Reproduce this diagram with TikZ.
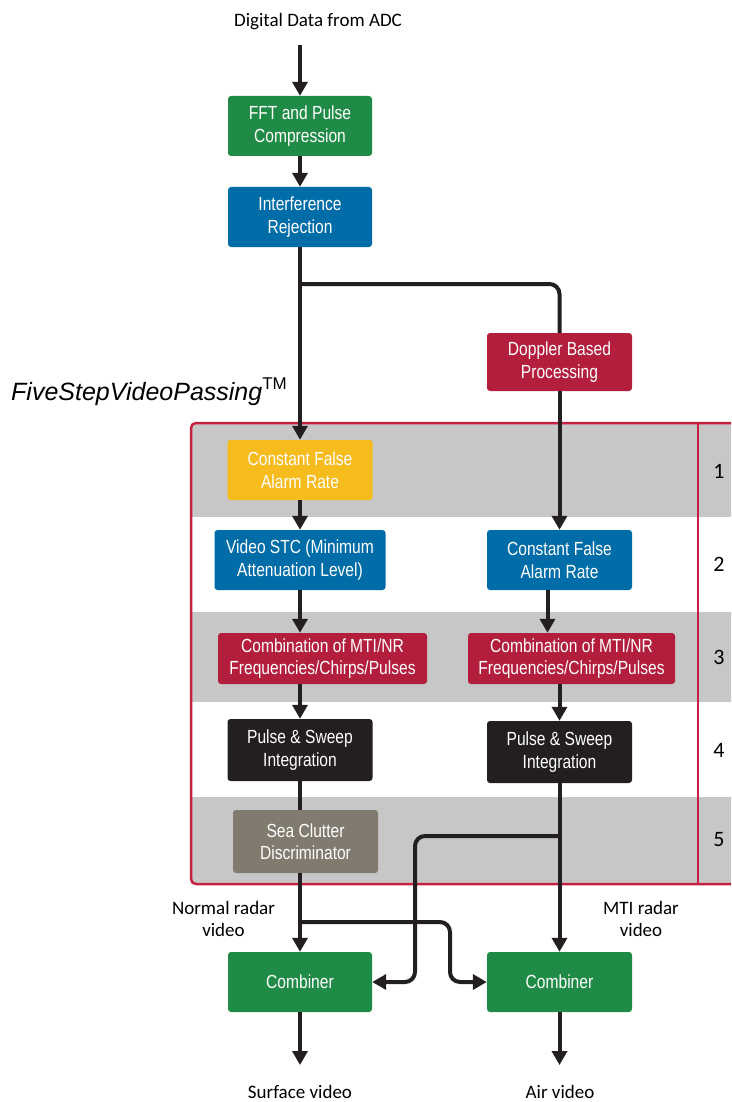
\documentclass[tikz,border=0pt]{standalone}
\usepackage{fontspec}
\setmainfont{Carlito}
\newfontfamily\boxfont{Liberation Sans}[FakeStretch=0.82]
\newfontfamily\headfont{Liberation Sans}
\usetikzlibrary{arrows.meta}

\definecolor{boxgreen}{HTML}{1F8B46}
\definecolor{boxblue}{HTML}{006CA8}
\definecolor{boxred}{HTML}{B31E3C}
\definecolor{boxyellow}{HTML}{F6BB1C}
\definecolor{boxblack}{HTML}{231F20}
\definecolor{boxtaupe}{HTML}{817A6F}
\definecolor{bandgray}{HTML}{C7C7C7}
\definecolor{framered}{HTML}{C4203F}
\definecolor{wirecol}{HTML}{231F20}

\tikzset{
  blk/.style={rounded corners=3pt, text=white, align=center, inner sep=0pt,
    font=\boxfont\fontsize{19}{22.5}\selectfont},
  lbl/.style={align=center, inner sep=0pt, text=black,
    font=\fontsize{19}{22.5}\selectfont},
  stepnum/.style={inner sep=0pt, font=\fontsize{22}{22}\selectfont},
  wire/.style={draw=wirecol, line width=4pt},
  arr/.style={wire, -{Triangle[length=14pt,width=15pt]}},
  roundbend/.style={rounded corners=10pt},
}

\begin{document}
\begin{tikzpicture}[x=1pt,y=-1pt]
\useasboundingbox (0,0) rectangle (731,1102);

% five-step frame with alternating bands
\begin{scope}
  \clip (0,0) rectangle (731,1102);
  \begin{scope}
    \clip[rounded corners=5pt] (191,423) rectangle (760,884);
    \fill[bandgray] (180,410) rectangle (770,517);
    \fill[bandgray] (180,612) rectangle (770,702);
    \fill[bandgray] (180,797) rectangle (770,890);
  \end{scope}
  \draw[framered, line width=2.5pt, rounded corners=5pt] (191,423) rectangle (760,884);
  \draw[framered, line width=2.5pt] (698,423) -- (698,884);
\end{scope}

% step numbers
\node[stepnum] (n1) at (719,471) {1};
\node[stepnum] (n2) at (719,564) {2};
\node[stepnum] (n3) at (719,657) {3};
\node[stepnum] (n4) at (719,750) {4};
\node[stepnum] (n5) at (719,840) {5};

% heading
\node[anchor=base west, inner sep=0pt, font=\headfont\itshape\fontsize{25}{30}\selectfont]
  (brand) at (11,400) {FiveStepVideoPassing\raisebox{11pt}{\fontsize{17}{17}\selectfont\upshape TM}};

% text labels
\node[lbl] (src) at (318,22) {Digital Data from ADC};
\node[lbl] (normal) at (223.5,919) {Normal radar\\video};
\node[lbl] (mti) at (641,919) {MTI radar\\video};
\node[lbl] (surf) at (300,1092) {Surface video};
\node[lbl] (air) at (560,1092) {Air video};

% processing blocks
\node[blk, fill=boxgreen, minimum width=144pt, minimum height=60pt] (fft) at (300,126) {FFT and Pulse\\Compression};
\node[blk, fill=boxblue, minimum width=144pt, minimum height=60pt] (ir) at (300,217) {Interference\\Rejection};
\node[blk, fill=boxred, minimum width=145pt, minimum height=58pt] (dop) at (559.5,362) {Doppler Based\\Processing};
\node[blk, fill=boxyellow, minimum width=145pt, minimum height=60pt] (cfar1) at (300,470) {Constant False\\Alarm Rate};
\node[blk, fill=boxblue, minimum width=171pt, minimum height=60pt] (vstc) at (300,560) {Video STC (Minimum\\Attenuation Level)};
\node[blk, fill=boxblue, minimum width=145pt, minimum height=60pt] (cfar2) at (559.5,560) {Constant False\\Alarm Rate};
\node[blk, fill=boxred, minimum width=209pt, minimum height=51pt] (combL) at (322.5,658.5) {Combination of MTI/NR\\Frequencies/Chirps/Pulses};
\node[blk, fill=boxred, minimum width=207pt, minimum height=51pt] (combR) at (571.5,658.5) {Combination of MTI/NR\\Frequencies/Chirps/Pulses};
\node[blk, fill=boxblack, minimum width=145pt, minimum height=62pt] (psL) at (300,750) {Pulse \& Sweep\\Integration};
\node[blk, fill=boxblack, minimum width=145pt, minimum height=62pt] (psR) at (559.5,752) {Pulse \& Sweep\\Integration};
\node[blk, fill=boxtaupe, minimum width=145pt, minimum height=63pt] (sea) at (305.5,841.5) {Sea Clutter\\Discriminator};
\node[blk, fill=boxgreen, minimum width=144pt, minimum height=60pt] (cL) at (300,982) {Combiner};
\node[blk, fill=boxgreen, minimum width=145pt, minimum height=60pt] (cR) at (559.5,982) {Combiner};

% routing points
\coordinate (srcEnd) at (300,45);
\coordinate (split1) at (300,284);
\coordinate (split3) at (300,922);
\coordinate (split4) at (559.5,836);
\coordinate (bendA) at (450,922);
\coordinate (bendB) at (415,836);
\coordinate (surfIn) at (300,1065);
\coordinate (airIn) at (559.5,1065);

% connectors
\draw[arr] (srcEnd) -- (fft.north);
\draw[arr] (fft.south) -- (ir.north);
\draw[arr] (ir.south) -- (cfar1.north);
\draw[wire, roundbend] (split1) -- (split1 -| dop.north) -- (dop.north);
\draw[arr] (dop.south) -- (cfar2.north);
\draw[arr] (cfar1.south) -- (vstc.north);
\draw[arr] (vstc.south) -- (vstc.south |- combL.north);
\draw[arr] ([xshift=-12pt]cfar2.south) -- ([xshift=-12pt]cfar2.south |- combR.north);
\draw[arr] (psL.north |- combL.south) -- (psL.north);
\draw[arr] (psR.north |- combR.south) -- (psR.north);
\draw[wire] (psL.south) -- (psL.south |- sea.north);
\draw[arr] (psL.south |- sea.south) -- (cL.north);
\draw[arr] (psR.south) -- (cR.north);
\draw[arr, roundbend] (split3) -- (bendA) -- (bendA |- cR.west) -- (cR.west);
\draw[arr, roundbend] (split4) -- (bendB) -- (bendB |- cL.east) -- (cL.east);
\draw[arr] (cL.south) -- (surfIn);
\draw[arr] (cR.south) -- (airIn);
\end{tikzpicture}
\end{document}
